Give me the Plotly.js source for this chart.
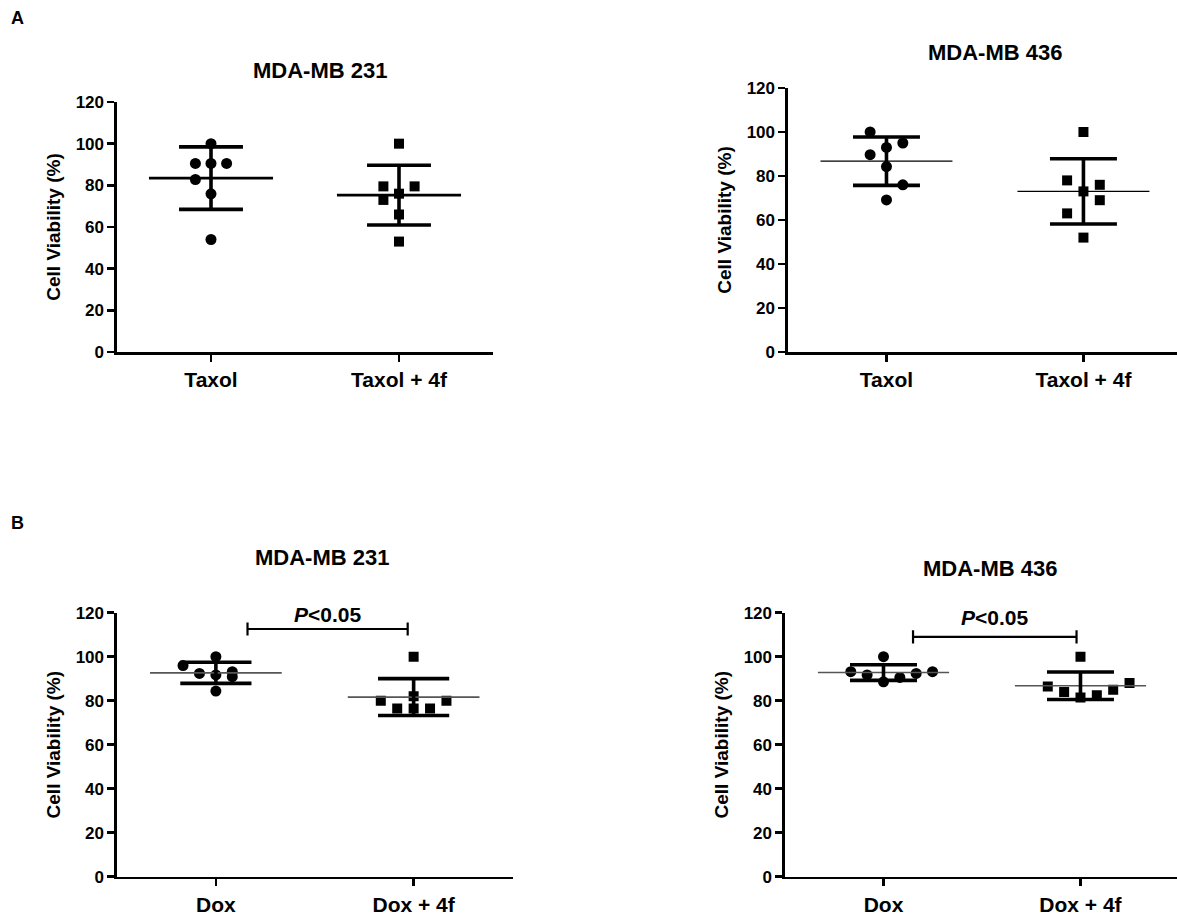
<!DOCTYPE html>
<html>
<head>
<meta charset="utf-8">
<script src="https://cdn.plot.ly/plotly-3.0.1.min.js"></script>
<style>html,body{margin:0;padding:0;background:#fff;}#chart{width:1177px;height:917px;}</style>
</head>
<body>
<div id="chart"></div>
<script>
// ---------------- data ----------------
const panelTitles = ["MDA-MB 231", "MDA-MB 436", "MDA-MB 231", "MDA-MB 436"];
const catsTaxol = ["Taxol", "Taxol + 4f"];
const catsDox = ["Dox", "Dox + 4f"];
const yTicks = [0, 20, 40, 60, 80, 100, 120];
const yTitle = "Cell Viability (%)";

// A: MDA-MB 231 (Taxol)
const a231Taxol   = [100, 90.5, 90.5, 90.5, 82.8, 75.9, 54.0];
const a231Taxol4f = [100, 79.5, 79.5, 76.0, 73.0, 66.0, 53.0];
// A: MDA-MB 436 (Taxol)
const a436Taxol   = [100, 95.0, 93.0, 89.7, 84.3, 76.0, 69.1];
const a436Taxol4f = [100, 78.0, 76.0, 73.0, 69.0, 63.0, 52.0];
// B: MDA-MB 231 (Dox)
const b231Dox   = [100, 96.0, 92.4, 91.7, 93.2, 90.9, 84.4];
const b231Dox4f = [100, 80.0, 82.0, 80.0, 76.5, 76.5, 76.5];
// B: MDA-MB 436 (Dox)
const b436Dox   = [93.2, 91.7, 100, 88.6, 90.6, 92.4, 93.2];
const b436Dox4f = [100, 88.0, 86.5, 85.0, 84.0, 82.5, 81.5];

// ---------------- styling / placement (not data) ----------------
const jitA231T  = [0, -1, 0, 1, -1, 0, 0];
const jitA231T4 = [0, -1, 1, 0, -1, 0, 0];
const jitA436T  = [-1, 1, 0, -1, 0, 1, 0];
const jitA436T4 = [0, -1, 1, 0, 1, -1, 0];
const jitB231D  = [0, -2, -1, 0, 1, 1, 0];
const jitB231D4 = [0, -2, 0, 2, -1, 0, 1];
const jitB436D  = [-2, -1, 0, 0, 1, 2, 3];
const jitB436D4 = [0, 3, -2, 2, -1, 1, 0];
const JSTEP = 0.083;

const FONT = "Liberation Sans, Arial, Helvetica, sans-serif";
const W = 1177, H = 917;
const fx = p => p / W;
const fy = p => 1 - p / H;

const panels = [
  {xd:[117,493],  yd:[102,352],   xr:[-0.5,1.5],   cats:catsTaxol, g:[a231Taxol,a231Taxol4f], j:[jitA231T,jitA231T4],
   meanStyle:{color:"#000",width:2.7}, mw:0.33, cw:0.17, title:panelTitles[0], tx:320, ty:70},
  {xd:[788,1177], yd:[88,352],    xr:[-0.5,1.475], cats:catsTaxol, g:[a436Taxol,a436Taxol4f], j:[jitA436T,jitA436T4],
   meanStyle:{color:"#000",width:1.2}, mw:0.335, cw:0.17, title:panelTitles[1], tx:995, ty:52},
  {xd:[117,512.5],yd:[612.7,876.7],xr:[-0.5,1.5],  cats:catsDox, g:[b231Dox,b231Dox4f], j:[jitB231D,jitB231D4],
   meanStyle:{color:"#555",width:1.6}, mw:0.333, cw:0.18, title:panelTitles[2], tx:322, ty:557,
   br:{x0:0.16, x1:0.97, y:112.6, ty:119}},
  {xd:[785,1177], yd:[612.7,876.7],xr:[-0.5,1.49], cats:catsDox, g:[b436Dox,b436Dox4f], j:[jitB436D,jitB436D4],
   meanStyle:{color:"#555",width:1.6}, mw:0.333, cw:0.17, title:panelTitles[3], tx:990, ty:568,
   br:{x0:0.15, x1:0.98, y:109, ty:117.8}}
];

const mean = a => a.reduce((s,v)=>s+v,0)/a.length;
const sd = a => { const m = mean(a); return Math.sqrt(a.reduce((s,v)=>s+(v-m)*(v-m),0)/(a.length-1)); };

const traces = [];
const layout = {
  width: W, height: H, margin:{l:0,r:0,t:0,b:0},
  paper_bgcolor:"#fff", plot_bgcolor:"rgba(0,0,0,0)",
  showlegend:false, font:{family:FONT, color:"#000"},
  annotations:[], shapes:[]
};

panels.forEach((p, k) => {
  const n = k + 1;
  const xa = n === 1 ? "x" : "x" + n;
  const ya = n === 1 ? "y" : "y" + n;
  const xkey = n === 1 ? "xaxis" : "xaxis" + n;
  const ykey = n === 1 ? "yaxis" : "yaxis" + n;

  p.g.forEach((vals, gi) => {
    traces.push({
      type:"scatter", mode:"markers", xaxis:xa, yaxis:ya,
      x: vals.map((v,i)=> gi + p.j[gi][i]*JSTEP), y: vals,
      marker:{symbol: gi===0 ? "circle" : "square", size: gi===0 ? 11 : 10, color:"#000"},
      hoverinfo:"y"
    });
    const m = mean(vals), s = sd(vals);
    traces.push({
      type:"scatter", mode:"lines", xaxis:xa, yaxis:ya,
      x:[gi - p.mw, gi + p.mw], y:[m, m],
      line:{color:p.meanStyle.color, width:p.meanStyle.width}, hoverinfo:"skip"
    });
    traces.push({
      type:"scatter", mode:"lines", xaxis:xa, yaxis:ya,
      x:[gi, gi, null, gi-p.cw, gi+p.cw, null, gi-p.cw, gi+p.cw],
      y:[m-s, m+s, null, m+s, m+s, null, m-s, m-s],
      line:{color:"#000", width:3.6}, hoverinfo:"skip", connectgaps:false
    });
  });

  layout[xkey] = {
    domain:[fx(p.xd[0]), fx(p.xd[1])], range:p.xr, anchor:ya,
    tickmode:"array", tickvals:[0,1], ticktext:p.cats,
    ticks:"outside", ticklen:7, tickwidth:2.5, tickcolor:"#000",
    showline:true, linecolor:"#000", linewidth:2.6,
    showgrid:false, zeroline:false, fixedrange:true,
    tickfont:{family:FONT, size:21, weight:"bold", color:"#000"}
  };
  layout[ykey] = {
    domain:[fy(p.yd[1]), fy(p.yd[0])], range:[0,120], anchor:xa,
    tickmode:"array", tickvals:yTicks,
    ticks:"outside", ticklen:7, tickwidth:2.5, tickcolor:"#000",
    showline:true, linecolor:"#000", linewidth:2.6,
    showgrid:false, zeroline:false, fixedrange:true,
    tickfont:{family:FONT, size:17, weight:"bold", color:"#000"},
    title:{text:yTitle, standoff:10, font:{family:FONT, size:19, weight:"bold", color:"#000"}}
  };

  layout.annotations.push({
    xref:"paper", yref:"paper", x:fx(p.tx), y:fy(p.ty), xanchor:"center", yanchor:"middle",
    text:p.title, showarrow:false, font:{family:FONT, size:22, weight:"bold", color:"#000"}
  });

  if (p.br) {
    const b = p.br;
    layout.shapes.push(
      {type:"line", xref:xa, yref:ya, x0:b.x0, x1:b.x1, y0:b.y, y1:b.y, line:{color:"#000", width:2.2}},
      {type:"line", xref:xa, yref:ya, x0:b.x0, x1:b.x0, y0:b.y-3, y1:b.y+3, line:{color:"#000", width:2.2}},
      {type:"line", xref:xa, yref:ya, x0:b.x1, x1:b.x1, y0:b.y-3, y1:b.y+3, line:{color:"#000", width:2.2}}
    );
    layout.annotations.push({
      xref:xa, yref:ya, x:(b.x0+b.x1)/2, y:b.ty, xanchor:"center", yanchor:"middle",
      text:"<i>P</i>&lt;0.05", showarrow:false, font:{family:FONT, size:21, weight:"bold", color:"#000"}
    });
  }
});

layout.annotations.push(
  {xref:"paper", yref:"paper", x:fx(9), y:fy(18), xanchor:"left", yanchor:"middle", text:"A", showarrow:false,
   font:{family:FONT, size:18, weight:"bold", color:"#000"}},
  {xref:"paper", yref:"paper", x:fx(9), y:fy(523), xanchor:"left", yanchor:"middle", text:"B", showarrow:false,
   font:{family:FONT, size:18, weight:"bold", color:"#000"}}
);

Plotly.newPlot("chart", traces, layout, {staticPlot:true, displayModeBar:false});
</script>
</body>
</html>
